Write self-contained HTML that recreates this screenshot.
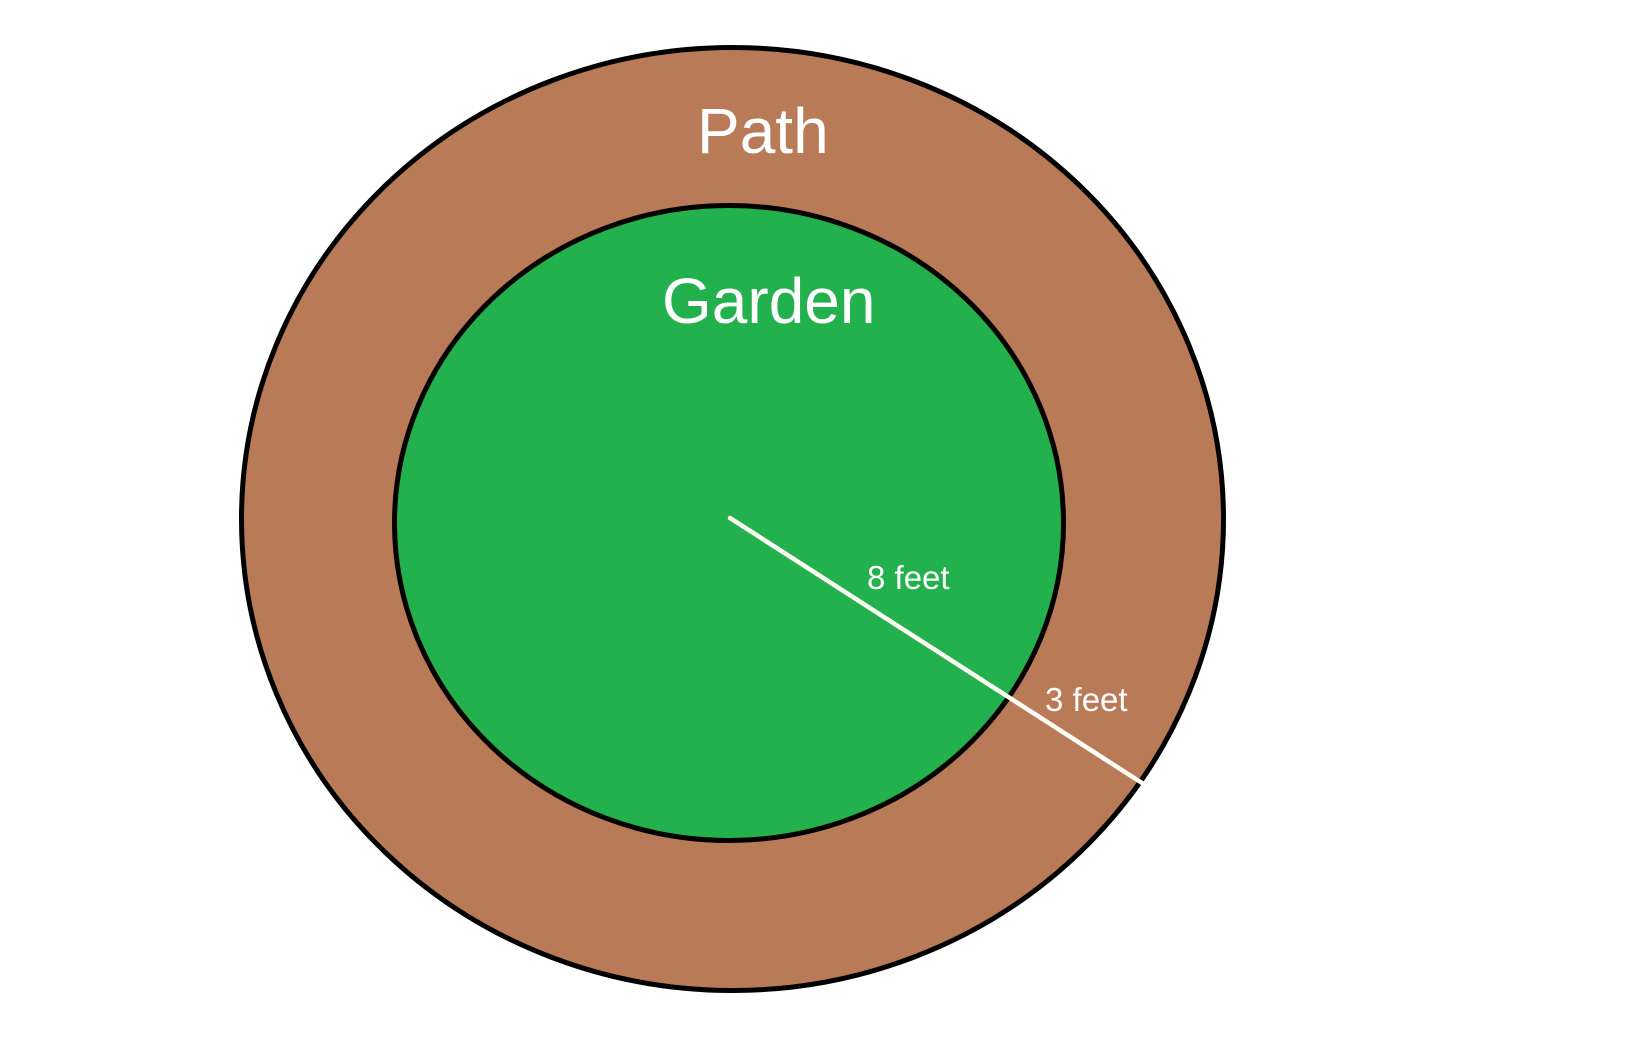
<!DOCTYPE html>
<html>
<head>
<meta charset="utf-8">
<style>
  html, body { margin: 0; padding: 0; background: #ffffff; }
  body { width: 1632px; height: 1052px; overflow: hidden; }
  svg { display: block; }
  text { font-family: "Liberation Sans", Arial, sans-serif; fill: #ffffff; }
</style>
</head>
<body>
<svg width="1632" height="1052" viewBox="0 0 1632 1052" xmlns="http://www.w3.org/2000/svg">
  <rect x="0" y="0" width="1632" height="1052" fill="#ffffff"/>
  <ellipse cx="732.5" cy="519" rx="491" ry="471.5" fill="#b97a57" stroke="#000000" stroke-width="5"/>
  <ellipse cx="729" cy="523" rx="334.5" ry="317.5" fill="#22b14c" stroke="#000000" stroke-width="5"/>
  <line x1="730" y1="518" x2="1142" y2="783" stroke="#fdfdf5" stroke-width="4.5" stroke-linecap="round"/>
  <text x="697" y="153" font-size="64">Path</text>
  <text x="662" y="323" font-size="64">Garden</text>
  <text x="867" y="589" font-size="33">8 feet</text>
  <text x="1045" y="711" font-size="33">3 feet</text>
</svg>
</body>
</html>
